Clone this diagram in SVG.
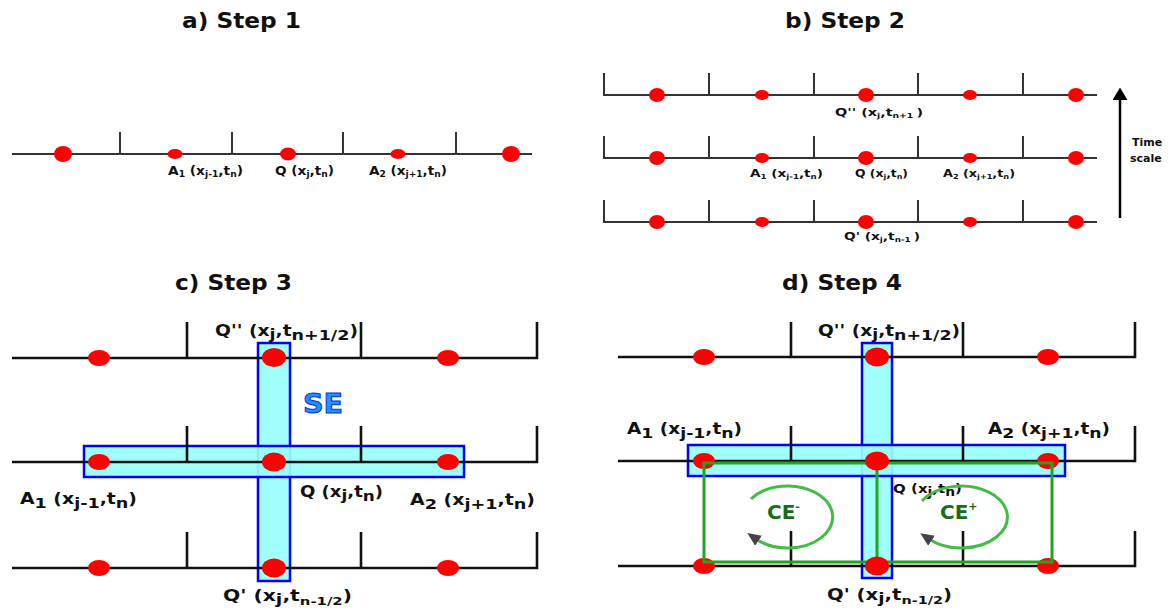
<svg xmlns="http://www.w3.org/2000/svg" width="1168" height="613" viewBox="0 0 1168 613">
<style>
text{font-family:"DejaVu Sans","Liberation Sans",sans-serif;font-weight:bold;fill:#111}
.title{font-size:21px}
.la{font-size:12px}
.sa{font-size:8px}
.lb{font-size:11px}
.sb{font-size:7px}
.lc{font-size:15px}
.sc{font-size:14px}
.ab{stroke:#333;stroke-width:2;fill:none}
.cd{stroke:#111;stroke-width:2.6;fill:none}
.dot{fill:#ff0000}
.se{fill:#99fffb;stroke:#0000ff;stroke-width:2.5;fill-opacity:0.92}
.ce{stroke:#22a322;stroke-width:3;fill:none}
.arc{stroke:#44bb44;stroke-width:3;fill:none}
.cel{font-size:20px;fill:#186e18}
</style>
<defs>
<marker id="ah" markerWidth="5" markerHeight="5" refX="1" refY="2.5" orient="auto" markerUnits="strokeWidth">
<path d="M0,0.5 L4.5,2.5 L0,4.5 Z" fill="#444"/>
</marker>
<marker id="up" markerWidth="5" markerHeight="6" refX="0" refY="3" orient="auto" markerUnits="strokeWidth">
<path d="M0,0 L5,3 L0,6 Z" fill="#000"/>
</marker>
</defs>

<!-- Titles -->
<g id="titles">
<text class="title" x="182" y="28" textLength="119" lengthAdjust="spacingAndGlyphs">a) Step 1</text>
<text class="title" x="785" y="28" textLength="120" lengthAdjust="spacingAndGlyphs">b) Step 2</text>
<text class="title" x="175" y="290" textLength="117" lengthAdjust="spacingAndGlyphs">c) Step 3</text>
<text class="title" x="782" y="290" textLength="120" lengthAdjust="spacingAndGlyphs">d) Step 4</text>
</g>

<!-- Panel a -->
<g id="panel-a">
<path class="ab" d="M12 154H532M120 132V154M232 132V154M343 132V154M456 132V154"/>
<ellipse class="dot" cx="63" cy="154" rx="9" ry="8"/>
<ellipse class="dot" cx="175" cy="154" rx="7.5" ry="5"/>
<ellipse class="dot" cx="288" cy="154" rx="8" ry="6.5"/>
<ellipse class="dot" cx="398" cy="154" rx="7.5" ry="5"/>
<ellipse class="dot" cx="511" cy="154" rx="9" ry="8"/>
<text class="la" x="168" y="175" textLength="75" lengthAdjust="spacingAndGlyphs">A<tspan class="sa" dy="2">1</tspan><tspan dy="-2"> (x</tspan><tspan class="sa" dy="2">j-1</tspan><tspan dy="-2">,t</tspan><tspan class="sa" dy="2">n</tspan><tspan dy="-2">)</tspan></text>
<text class="la" x="275" y="175" textLength="59" lengthAdjust="spacingAndGlyphs">Q (x<tspan class="sa" dy="2">j</tspan><tspan dy="-2">,t</tspan><tspan class="sa" dy="2">n</tspan><tspan dy="-2">)</tspan></text>
<text class="la" x="369" y="175" textLength="78" lengthAdjust="spacingAndGlyphs">A<tspan class="sa" dy="2">2</tspan><tspan dy="-2"> (x</tspan><tspan class="sa" dy="2">j+1</tspan><tspan dy="-2">,t</tspan><tspan class="sa" dy="2">n</tspan><tspan dy="-2">)</tspan></text>
</g>

<!-- Panel b -->
<g id="panel-b">
<path class="ab" d="M604 73V95H1097M709 73V95M814 73V95M918 73V95M1023 73V95"/>
<path class="ab" d="M604 136V158H1097M709 136V158M814 136V158M918 136V158M1023 136V158"/>
<path class="ab" d="M604 200V222H1097M709 200V222M814 200V222M918 200V222M1023 200V222"/>
<g>
<ellipse class="dot" cx="657" cy="95" rx="8" ry="7"/><ellipse class="dot" cx="762" cy="95" rx="7" ry="5"/><ellipse class="dot" cx="866" cy="95" rx="8" ry="7"/><ellipse class="dot" cx="970" cy="95" rx="7" ry="5"/><ellipse class="dot" cx="1076" cy="95" rx="8" ry="7"/>
<ellipse class="dot" cx="657" cy="158" rx="8" ry="7"/><ellipse class="dot" cx="762" cy="158" rx="7" ry="5"/><ellipse class="dot" cx="866" cy="158" rx="8" ry="7"/><ellipse class="dot" cx="970" cy="158" rx="7" ry="5"/><ellipse class="dot" cx="1076" cy="158" rx="8" ry="7"/>
<ellipse class="dot" cx="657" cy="222" rx="8" ry="7"/><ellipse class="dot" cx="762" cy="222" rx="7" ry="5"/><ellipse class="dot" cx="866" cy="222" rx="8" ry="7"/><ellipse class="dot" cx="970" cy="222" rx="7" ry="5"/><ellipse class="dot" cx="1076" cy="222" rx="8" ry="7"/>
</g>
<text class="lb" x="835" y="116" textLength="88" lengthAdjust="spacingAndGlyphs">Q'' (x<tspan class="sb" dy="2">j</tspan><tspan dy="-2">,t</tspan><tspan class="sb" dy="2">n+1  </tspan><tspan dy="-2">)</tspan></text>
<text class="lb" x="750" y="177" textLength="73" lengthAdjust="spacingAndGlyphs">A<tspan class="sb" dy="2">1</tspan><tspan dy="-2"> (x</tspan><tspan class="sb" dy="2">j-1</tspan><tspan dy="-2">,t</tspan><tspan class="sb" dy="2">n</tspan><tspan dy="-2">)</tspan></text>
<text class="lb" x="855" y="177" textLength="53" lengthAdjust="spacingAndGlyphs">Q (x<tspan class="sb" dy="2">j</tspan><tspan dy="-2">,t</tspan><tspan class="sb" dy="2">n</tspan><tspan dy="-2">)</tspan></text>
<text class="lb" x="943" y="177" textLength="72" lengthAdjust="spacingAndGlyphs">A<tspan class="sb" dy="2">2</tspan><tspan dy="-2"> (x</tspan><tspan class="sb" dy="2">j+1</tspan><tspan dy="-2">,t</tspan><tspan class="sb" dy="2">n</tspan><tspan dy="-2">)</tspan></text>
<text class="lb" x="844" y="240" textLength="76" lengthAdjust="spacingAndGlyphs">Q' (x<tspan class="sb" dy="2">j</tspan><tspan dy="-2">,t</tspan><tspan class="sb" dy="2">n-1  </tspan><tspan dy="-2">)</tspan></text>
</g>

<g id="time-axis">
<line x1="1120" y1="218" x2="1120" y2="100" stroke="#000" stroke-width="2.5" marker-end="url(#up)"/>
<text class="lb" x="1132" y="146">Time</text>
<text class="lb" x="1130" y="162">scale</text>
</g>

<!-- Panel c -->
<g id="panel-c">
<rect class="se" x="258" y="343" width="32" height="238"/>
<rect class="se" x="84" y="446" width="380" height="31"/>
<path class="cd" d="M12 358H537V322M187 322V358M361 322V358"/>
<path class="cd" d="M12 462H537V426M187 426V462M361 426V462"/>
<path class="cd" d="M12 568H537V532M187 532V568M361 532V568"/>
<ellipse class="dot" cx="99" cy="358" rx="11" ry="8"/><ellipse class="dot" cx="274" cy="357.5" rx="12" ry="9.5"/><ellipse class="dot" cx="448" cy="358" rx="11" ry="8"/>
<ellipse class="dot" cx="99" cy="462" rx="11" ry="8"/><ellipse class="dot" cx="274" cy="462" rx="12" ry="9.5"/><ellipse class="dot" cx="448" cy="462" rx="11" ry="8"/>
<ellipse class="dot" cx="99" cy="568" rx="11" ry="8"/><ellipse class="dot" cx="274" cy="568" rx="12" ry="9.5"/><ellipse class="dot" cx="448" cy="568" rx="11" ry="8"/>
<text x="303" y="413" font-size="27" textLength="40" lengthAdjust="spacingAndGlyphs" style="fill:#2a8cff;stroke:#0038d8;stroke-width:1">SE</text>
<text class="lc" x="215" y="336" textLength="143" lengthAdjust="spacingAndGlyphs">Q'' (x<tspan class="sc" dy="3">j</tspan><tspan dy="-3">,t</tspan><tspan class="sc" dy="4">n+1/2</tspan><tspan dy="-4">)</tspan></text>
<text class="lc" x="20" y="504" textLength="117" lengthAdjust="spacingAndGlyphs">A<tspan class="sc" dy="4">1</tspan><tspan dy="-4"> (x</tspan><tspan class="sc" dy="4">j-1</tspan><tspan dy="-4">,t</tspan><tspan class="sc" dy="4">n</tspan><tspan dy="-4">)</tspan></text>
<text class="lc" x="300" y="497" textLength="83" lengthAdjust="spacingAndGlyphs">Q (x<tspan class="sc" dy="3">j</tspan><tspan dy="-3">,t</tspan><tspan class="sc" dy="4">n</tspan><tspan dy="-4">)</tspan></text>
<text class="lc" x="410" y="505" textLength="125" lengthAdjust="spacingAndGlyphs">A<tspan class="sc" dy="4">2</tspan><tspan dy="-4"> (x</tspan><tspan class="sc" dy="4">j+1</tspan><tspan dy="-4">,t</tspan><tspan class="sc" dy="4">n</tspan><tspan dy="-4">)</tspan></text>
<text class="lc" x="223" y="601" textLength="129" lengthAdjust="spacingAndGlyphs">Q' (x<tspan class="sc" dy="3">j</tspan><tspan dy="-3">,t</tspan><tspan class="sc" dy="4" style="font-size:11px">n-1/2</tspan><tspan dy="-4">)</tspan></text>
</g>

<!-- Panel d -->
<g id="panel-d">
<rect class="se" x="862" y="343" width="30" height="235"/>
<rect class="se" x="688" y="445" width="377" height="31"/>
<path class="cd" d="M618 357H1135V322M791 322V357M963 322V357"/>
<path class="cd" d="M618 461H1135V426M791 426V461M963 426V461"/>
<path class="cd" d="M618 566H1135V531M791 531V566M963 531V566"/>
<ellipse class="dot" cx="704" cy="357" rx="11" ry="8"/><ellipse class="dot" cx="1048" cy="357" rx="11" ry="8"/>
<ellipse class="dot" cx="704" cy="461" rx="11" ry="8"/><ellipse class="dot" cx="1048" cy="461" rx="11" ry="8"/>
<ellipse class="dot" cx="704" cy="566" rx="11" ry="8"/><ellipse class="dot" cx="1048" cy="566" rx="11" ry="8"/>
<path class="ce" d="M704 463H1052V562H704Z M877 468V559"/>
<ellipse class="dot" cx="877" cy="357" rx="12" ry="9.5"/><ellipse class="dot" cx="877" cy="461" rx="12" ry="9.5"/><ellipse class="dot" cx="877" cy="566" rx="12" ry="9.5"/>
<text class="lc" x="818" y="336" textLength="142" lengthAdjust="spacingAndGlyphs">Q'' (x<tspan class="sc" dy="3">j</tspan><tspan dy="-3">,t</tspan><tspan class="sc" dy="4">n+1/2</tspan><tspan dy="-4">)</tspan></text>
<text class="lc" x="627" y="434" textLength="115" lengthAdjust="spacingAndGlyphs">A<tspan class="sc" dy="4">1</tspan><tspan dy="-4"> (x</tspan><tspan class="sc" dy="4">j-1</tspan><tspan dy="-4">,t</tspan><tspan class="sc" dy="4">n</tspan><tspan dy="-4">)</tspan></text>
<text class="lc" x="988" y="434" textLength="122" lengthAdjust="spacingAndGlyphs">A<tspan class="sc" dy="4">2</tspan><tspan dy="-4"> (x</tspan><tspan class="sc" dy="4">j+1</tspan><tspan dy="-4">,t</tspan><tspan class="sc" dy="4">n</tspan><tspan dy="-4">)</tspan></text>
<text x="893" y="493" font-size="13" textLength="69" lengthAdjust="spacingAndGlyphs">Q (x<tspan font-size="12" dy="3">j</tspan><tspan dy="-3">,t</tspan><tspan font-size="12" dy="3">n</tspan><tspan dy="-3">)</tspan></text>
<text class="lc" x="827" y="600" textLength="125" lengthAdjust="spacingAndGlyphs">Q' (x<tspan class="sc" dy="3">j</tspan><tspan dy="-3">,t</tspan><tspan class="sc" dy="4" style="font-size:11px">n-1/2</tspan><tspan dy="-4">)</tspan></text>
<path class="arc" d="M751 499A45 31 0 1 1 756 539" marker-end="url(#ah)"/>
<path class="arc" d="M922 501A46 31 0 1 1 929 539" marker-end="url(#ah)"/>
<text class="cel" x="767" y="519">CE<tspan font-size="11" dy="-9">-</tspan></text>
<text class="cel" x="940" y="519">CE<tspan font-size="11" dy="-9">+</tspan></text>
</g>
</svg>
